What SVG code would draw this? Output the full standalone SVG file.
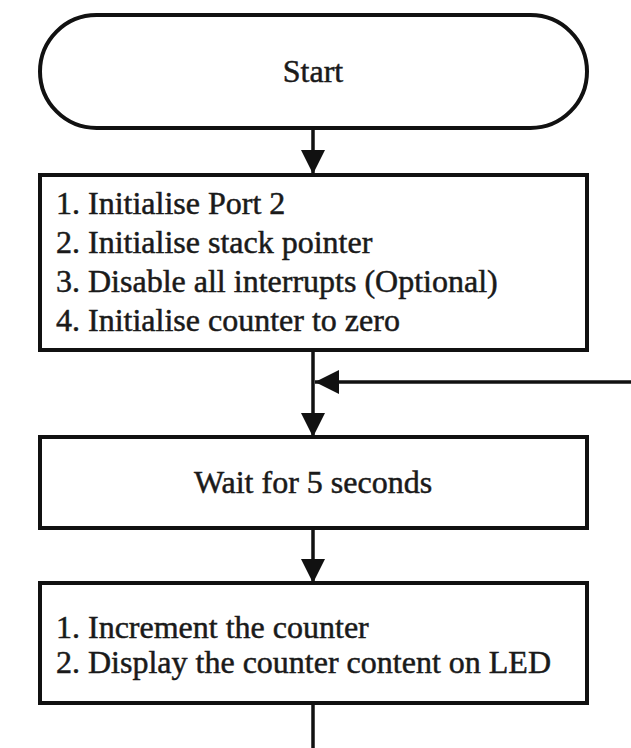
<svg xmlns="http://www.w3.org/2000/svg" width="631" height="748" viewBox="0 0 631 748">
<style>
.box{fill:#fff;stroke:#111;stroke-width:4}
.t{font-family:'Liberation Serif','Times New Roman',serif;font-size:32px;fill:#1a1a1a;stroke:#1a1a1a;stroke-width:0.5}
.c{text-anchor:middle}
.ln{stroke:#111;stroke-width:3.5;fill:none}
</style>
<defs>
<marker id="ah" markerUnits="userSpaceOnUse" markerWidth="24" markerHeight="24" refX="24" refY="12" orient="auto">
<path d="M0,0 L24,12 L0,24 Z" fill="#111"/>
</marker>
</defs>
<rect width="631" height="748" fill="#fff"/>
<g id="connectors">
<line class="ln" x1="313" y1="128" x2="313" y2="174" marker-end="url(#ah)"/>
<line class="ln" x1="313" y1="350" x2="313" y2="437" marker-end="url(#ah)"/>
<line class="ln" x1="631" y1="382" x2="315" y2="382" marker-end="url(#ah)"/>
<line class="ln" x1="313" y1="528" x2="313" y2="583" marker-end="url(#ah)"/>
<line class="ln" x1="313" y1="703" x2="313" y2="748"/>
</g>
<g id="start">
<rect class="box" x="40" y="15" width="547" height="113" rx="56.5" ry="56.5"/>
<text class="t c" x="313" y="82">Start</text>
</g>
<g id="init">
<rect class="box" x="40" y="175" width="547" height="175"/>
<text class="t" x="56" y="214">1. Initialise Port 2</text>
<text class="t" x="56" y="253">2. Initialise stack pointer</text>
<text class="t" x="56" y="292">3. Disable all interrupts (Optional)</text>
<text class="t" x="56" y="331">4. Initialise counter to zero</text>
</g>
<g id="wait">
<rect class="box" x="40" y="437" width="547" height="91"/>
<text class="t c" x="313" y="493">Wait for 5 seconds</text>
</g>
<g id="increment">
<rect class="box" x="40" y="583" width="547" height="120"/>
<text class="t" x="56" y="638">1. Increment the counter</text>
<text class="t" x="56" y="673">2. Display the counter content on LED</text>
</g>
</svg>
